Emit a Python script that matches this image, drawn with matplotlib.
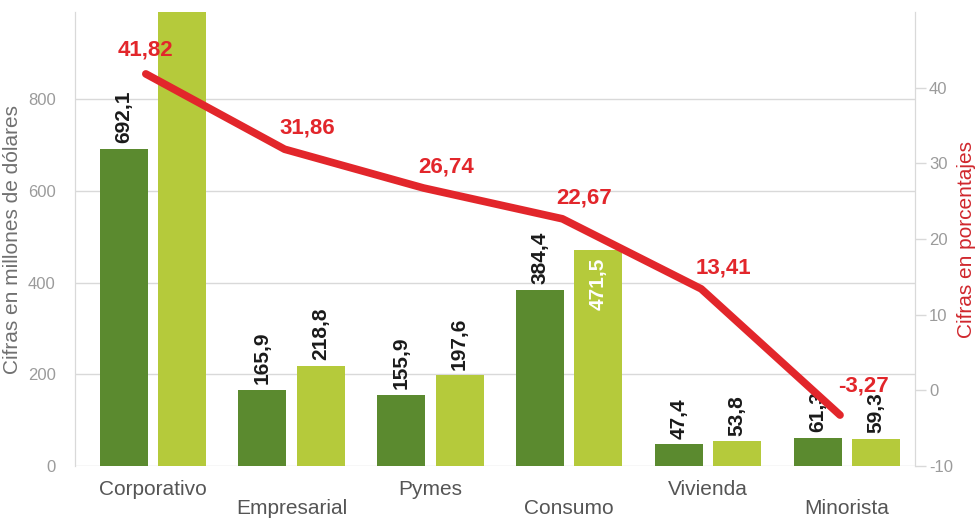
import matplotlib
matplotlib.use("Agg")
import matplotlib.pyplot as plt
from matplotlib.ticker import FuncFormatter
import numpy as np

# Data
categories = ["Corporativo", "Empresarial", "Pymes", "Consumo", "Vivienda", "Minorista"]
serie_a = [692.1, 165.9, 155.9, 384.4, 47.4, 61.3]
serie_b = [1000.0, 218.8, 197.6, 471.5, 53.8, 59.3]
labels_a = ["692,1", "165,9", "155,9", "384,4", "47,4", "61,3"]
labels_b = [None, "218,8", "197,6", "471,5", "53,8", "59,3"]
porcentajes = [41.82, 31.86, 26.74, 22.67, 13.41, -3.27]
labels_pct = ["41,82", "31,86", "26,74", "22,67", "13,41", "-3,27"]
left_ticks = [0, 200, 400, 600, 800]
right_ticks = [-10, 0, 10, 20, 30, 40]

DARK = "#5b8a2f"
LIGHT = "#b5ca3b"
RED = "#e2262b"
GRID = "#d9d9d9"
TICK = "#9b9b9b"
TXT = "#555555"

plt.rcParams["font.family"] = ["Liberation Sans", "DejaVu Sans"]

fig = plt.figure(figsize=(9.8, 5.2), dpi=100)
ax = fig.add_axes([75 / 980, 54 / 520, 840 / 980, 454 / 520])
ax2 = ax.twinx()

x = np.arange(len(categories))
w = 0.345
off = 0.21

ax.set_xlim(-0.56, 5.49)
ax.set_ylim(0, 990)
ax2.set_ylim(-10, 50)

ax.bar(x - off, serie_a, width=w, color=DARK, zorder=2)
ax.bar(x + off, serie_b, width=w, color=LIGHT, zorder=2)

# Bar value labels (rotated)
for xi, v, lab in zip(x, serie_a, labels_a):
    ax.annotate(lab, (xi - off, v), xytext=(0, 4), textcoords="offset points",
                rotation=90, ha="center", va="bottom", fontsize=15,
                fontweight="bold", color="#1a1a1a", zorder=3)
for xi, v, lab in zip(x, serie_b, labels_b):
    if lab is None:
        continue
    if lab == "471,5":
        ax.annotate(lab, (xi + off, v), xytext=(0, -6), textcoords="offset points",
                    rotation=90, ha="center", va="top", fontsize=15,
                    fontweight="bold", color="white", zorder=3)
    else:
        ax.annotate(lab, (xi + off, v), xytext=(0, 4), textcoords="offset points",
                    rotation=90, ha="center", va="bottom", fontsize=15,
                    fontweight="bold", color="#1a1a1a", zorder=3)

# Percentage line on the right axis
xl = x - 0.05
ax2.plot(xl, porcentajes, color=RED, lw=5.5, solid_capstyle="round",
         solid_joinstyle="round", zorder=4)
for i, (xi, v, lab) in enumerate(zip(xl, porcentajes, labels_pct)):
    if i == 0:
        dx, dy = 0, 17
    elif i == len(porcentajes) - 1:
        dx, dy = 17, 21
    else:
        dx, dy = 16, 15
    ax2.annotate(lab, (xi, v), xytext=(dx, dy), textcoords="offset points",
                 ha="center", va="center", fontsize=16, fontweight="bold",
                 color=RED, zorder=5)

# Grid and axes styling
ax.set_yticks(left_ticks)
ax.yaxis.grid(True, color=GRID, lw=1, zorder=0)
ax.set_axisbelow(True)
ax2.set_yticks(right_ticks)
ax2.yaxis.set_major_formatter(FuncFormatter(lambda v, p: f"{int(v)}"))

for a in (ax, ax2):
    for s in ("top", "bottom"):
        a.spines[s].set_visible(False)
    a.spines["left"].set_color(GRID)
    a.spines["right"].set_color(GRID)

ax.tick_params(axis="y", length=0, pad=14, labelcolor=TICK, labelsize=12)
ax2.tick_params(axis="y", length=8, width=1, color=GRID, pad=2,
                labelcolor=TICK, labelsize=12)

# Staggered category labels
ax.set_xticks(x)
ax.set_xticklabels(categories, fontsize=15, color=TXT)
ax.tick_params(axis="x", length=0)
for i, t in enumerate(ax.xaxis.get_major_ticks()):
    t.set_pad(10 if i % 2 == 0 else 24)

ax.set_ylabel("Cifras en millones de dólares", fontsize=15, color="#707070",
              labelpad=4)
ax2.set_ylabel("Cifras en porcentajes", fontsize=15, color="#d0272d",
               labelpad=3)

fig.savefig("out.png", dpi=100)
